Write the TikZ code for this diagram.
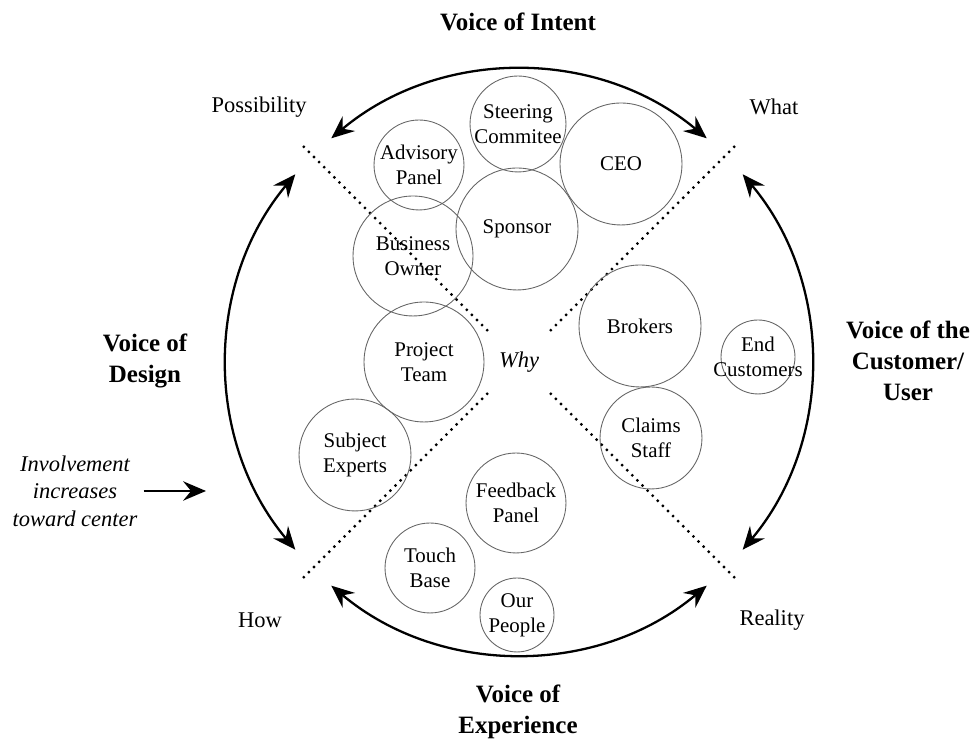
\documentclass[tikz,border=0pt]{standalone}
\usepackage{fontspec}
\setmainfont{Liberation Serif}
\usetikzlibrary{arrows.meta,positioning}

\tikzset{
  bub/.style={circle, draw=black!60, line width=0.5pt, minimum size=#1*0.04cm},
  txt/.style={align=center, font=\fontsize{11.9}{14.2}\selectfont},
  side/.style={align=center, font=\fontsize{12.8}{15.6}\selectfont},
  voice/.style={align=center, font=\fontsize{14.2}{17.6}\selectfont\bfseries},
  note/.style={align=center, font=\fontsize{12.8}{15.6}\selectfont\itshape},
  sweep/.style={<->, line width=1.3pt},
  divide/.style={line width=1.8pt, dash pattern=on 0pt off 4.1pt, line cap=round},
}

\begin{document}
\begin{tikzpicture}[x=0.02cm, y=0.02cm, >={Stealth[length=13pt,width=11pt,inset=4.5pt]}]
  \useasboundingbox (0,0) rectangle (975,742);
  \coordinate (c) at (519,380);

  % arcs and quadrant lines
  \foreach \s/\e in {130/50, 40/-40, 230/310, 140/220}
    \draw[sweep] ([shift={(\s:292)}]c) arc[start angle=\s, end angle=\e, radius=292];
  \foreach \a in {45,135,225,315}
    \draw[divide] ([shift={(\a:45)}]c) -- ([shift={(\a:310)}]c);

  \node[font=\fontsize{12.8}{15.6}\selectfont\itshape] (why) at (c) {Why};

  % stakeholders
  \node[bub=48, label={[txt]center:Steering\\Commitee}] (steer) at (518,618) {};
  \node[bub=61, label={[txt]center:CEO}] (ceo) at (621,578) {};
  \node[bub=45, label={[txt]center:Advisory\\Panel}] (advis) at (419,577) {};
  \node[bub=61, label={[txt]center:Sponsor}] (spons) at (517,513) {};
  \node[bub=60, label={[txt]center:Business\\Owner}] (owner) at (413,486) {};
  \node[bub=60, label={[txt]center:Project\\Team}] (team) at (424,380) {};
  \node[bub=56, label={[txt]center:Subject\\Experts}] (experts) at (355,287) {};
  \node[bub=61, label={[txt]center:Brokers}] (brokers) at (640,416) {};
  \node[bub=37, label={[txt]center:End\\Customers}] (endcust) at (758,385) {};
  \node[bub=51, label={[txt]center:Claims\\Staff}] (claims) at (651,304) {};
  \node[bub=50, label={[txt]center:Feedback\\Panel}] (feedback) at (516,239) {};
  \node[bub=45, label={[txt]center:Touch\\Base}] (touch) at (430,174) {};
  \node[bub=37, label={[txt]center:Our\\People}] (people) at (517,127) {};

  % corner words
  \node[side] (possib) at (259,635) {Possibility};
  \node[side] (what) at (774,635) {What};
  \node[side] (how) at (260,122) {How};
  \node[side] (reality) at (772,122) {Reality};

  % voices
  \node[voice] (intent) at (518,720) {Voice of Intent};
  \node[voice] (design) at (145,381) {Voice of\\Design};
  \node[voice] (customer) at (908,381) {Voice of the\\Customer/\\User};
  \node[voice] (experience) at (518,30) {Voice of\\Experience};

  \node[note] (involve) at (75,251) {Involvement\\increases\\toward center};
  \coordinate (into) at (206,251);
  \draw[->, line width=1.3pt] (involve.east) -- (into);
\end{tikzpicture}
\end{document}
